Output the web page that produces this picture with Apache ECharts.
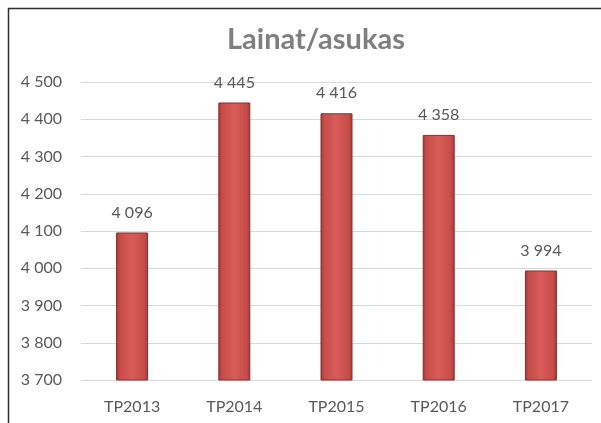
<!DOCTYPE html>
<html>
<head>
<meta charset="utf-8">
<script src="https://cdn.jsdelivr.net/npm/echarts@6/dist/echarts.min.js"></script>
<style>
  html, body { margin: 0; padding: 0; background: #fff; }
  #main { width: 601px; height: 423px; }
</style>
</head>
<body>
<div id="main"></div>
<script>
const categories = ["TP2013", "TP2014", "TP2015", "TP2016", "TP2017"];
const values = [4096, 4445, 4416, 4358, 3994];
const yMin = 3700;
const yMax = 4500;
const yStep = 100;

const fmt = (v) => String(Math.round(v)).replace(/\B(?=(\d{3})+(?!\d))/g, " ");

const chart = echarts.init(document.getElementById("main"));

// bars have a soft cylinder look: darker edges, lighter middle
const barColor = new echarts.graphic.LinearGradient(0, 0, 1, 0, [
  { offset: 0, color: "#a23936" },
  { offset: 0.12, color: "#c64d4a" },
  { offset: 0.5, color: "#d95c59" },
  { offset: 0.88, color: "#c64d4a" },
  { offset: 1, color: "#a23936" },
]);

const option = {
  animation: false,
  title: {
    text: "Lainat/asukas",
    left: 222,
    top: 20,
    textStyle: {
      fontFamily: "Lato",
      fontWeight: "bold",
      fontSize: 29,
      color: "#7f7f7f",
    },
  },
  graphic: [
    {
      type: "rect",
      shape: { x: 8.5, y: 8.5, width: 700, height: 600 },
      style: { fill: "none", stroke: "#2e2e2e", lineWidth: 1.5 },
      silent: true,
    },
  ],
  grid: { left: 81, right: 9, top: 82, bottom: 43 },
  xAxis: {
    type: "category",
    data: categories,
    axisLine: { show: false },
    axisTick: { show: false },
    axisLabel: {
      margin: 19,
      fontFamily: "Lato",
      fontSize: 16,
      color: "#595959",
    },
  },
  yAxis: {
    type: "value",
    min: yMin,
    max: yMax,
    interval: yStep,
    axisLine: { show: false },
    axisTick: { show: false },
    splitLine: { lineStyle: { color: "#d9d9d9", width: 1 } },
    axisLabel: {
      margin: 19,
      fontFamily: "Lato",
      fontSize: 16,
      color: "#595959",
      formatter: fmt,
    },
  },
  series: [
    {
      type: "bar",
      data: values,
      barWidth: 32,
      itemStyle: {
        color: barColor,
        borderColor: "#8a2e2b",
        borderWidth: 1,
      },
      label: {
        show: true,
        position: "top",
        distance: 12,
        fontFamily: "Lato",
        fontSize: 16,
        color: "#595959",
        formatter: (p) => fmt(p.value),
      },
    },
  ],
};

chart.setOption(option);
</script>
</body>
</html>
